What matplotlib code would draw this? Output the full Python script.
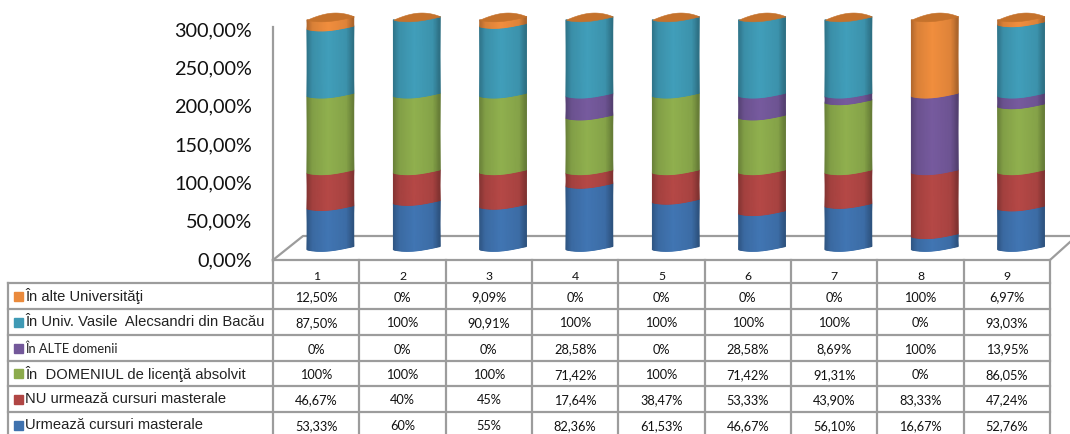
import numpy as np
import matplotlib
matplotlib.use("Agg")
import matplotlib.pyplot as plt
from matplotlib.lines import Line2D
from matplotlib.patches import Rectangle
from matplotlib.colors import LinearSegmentedColormap, to_rgb

categories = ["1", "2", "3", "4", "5", "6", "7", "8", "9"]
y_ticks = [0, 50, 100, 150, 200, 250, 300]
y_tick_labels = ["0,00%", "50,00%", "100,00%", "150,00%", "200,00%", "250,00%", "300,00%"]

# table rows, top to bottom
alte_univ = ["12,50%", "0%", "9,09%", "0%", "0%", "0%", "0%", "100%", "6,97%"]
univ_bacau = ["87,50%", "100%", "90,91%", "100%", "100%", "100%", "100%", "0%", "93,03%"]
alte_dom = ["0%", "0%", "0%", "28,58%", "0%", "28,58%", "8,69%", "100%", "13,95%"]
domeniu = ["100%", "100%", "100%", "71,42%", "100%", "71,42%", "91,31%", "0%", "86,05%"]
nu_urmeaza = ["46,67%", "40%", "45%", "17,64%", "38,47%", "53,33%", "43,90%", "83,33%", "47,24%"]
urmeaza = ["53,33%", "60%", "55%", "82,36%", "61,53%", "46,67%", "56,10%", "16,67%", "52,76%"]

row_labels = ["În alte Universităţi", "În Univ. Vasile  Alecsandri din Bacău", "În ALTE domenii",
              "În  DOMENIUL de licenţă absolvit", "NU urmează cursuri masterale", "Urmează cursuri masterale"]
row_values = [alte_univ, univ_bacau, alte_dom, domeniu, nu_urmeaza, urmeaza]
row_colors = ["#EA8A3C", "#3F9AB5", "#73589A", "#8CAB4C", "#B04644", "#3F72AE"]

W, H = 1070, 435
GRID = "#9C9C9C"
NUM_FONT = ["Lato", "DejaVu Sans"]
LABEL_FONT = ["Liberation Sans", "DejaVu Sans"]

fig = plt.figure(figsize=(W / 100, H / 100), dpi=100)


def fx(x):
    return x / W


def fy(y):
    return 1 - y / H


# chart area: one cell per category, 0-300 on 230 px
left, right, y0, y300 = 273, 1050, 259, 29
ax = fig.add_axes([fx(left), fy(y0), fx(right - left), fy(y300) - fy(y0)])
ax.set_xlim(0.5, 9.5)
ax.set_ylim(0, 300)
ax.axis("off")
ax.patch.set_alpha(0)


def to_num(s):
    return float(s.replace(",", ".").replace("%", ""))


def gline(xs, ys, lw=1.6):
    fig.add_artist(Line2D([fx(x) for x in xs], [fy(y) for y in ys], color=GRID, lw=lw, zorder=0))


# walls and floor
gline([273, 273], [28, 262])
gline([273, 303, 1070], [261, 237, 237])
gline([273, 1050, 1070], [261, 261, 243])

# y tick labels
for v, lab in zip(y_ticks, y_tick_labels):
    fig.text(fx(252), fy(y0 - v * (y0 - y300) / 300 + 1.5), lab, ha="right", va="center",
             fontsize=14.3, family=NUM_FONT, color="#111111")

# cylinders as gouraud meshes with a horizontal shade
SHIFT = 0.165   # 3D depth shift of the bars to the right
HALF = 0.27
BASE = 10.8     # height of the floor at the left edge of a bar
us = np.linspace(0, 1, 41)


def front(u):
    return 4.2 * u - 3.6 * np.sin(np.pi * u ** 0.8)


def back(u):
    return 4.2 * u + 7.0 * np.sin(np.pi * u ** 1.1) ** 0.8


def make_cmap(color):
    c = np.array(to_rgb(color))
    stops = [(0.0, c * 0.76), (0.12, c * 0.93), (0.45, c * 1.03), (0.85, c * 0.95), (1.0, c * 0.72)]
    return LinearSegmentedColormap.from_list("cyl", [(p, tuple(np.clip(k, 0, 1))) for p, k in stops])


cmaps = [make_cmap(c) for c in row_colors]
stack_order = list(range(len(row_values) - 1, -1, -1))
for i in range(len(categories)):
    cx = i + 1 + SHIFT
    xs = cx - HALF + 2 * HALF * us
    bottom = BASE
    for r in stack_order:
        v = to_num(row_values[r][i])
        if v == 0:
            continue
        X = np.vstack([xs, xs])
        Y = np.vstack([bottom + front(us), bottom + v + front(us)])
        C = np.vstack([us, us])
        ax.pcolormesh(X, Y, C, cmap=cmaps[r], vmin=0, vmax=1, shading="gouraud",
                      clip_on=False, zorder=3)
        bottom += v
    # top face of the cylinder
    ax.fill_between(xs, bottom + front(us), bottom + back(us), color="#C5722C",
                    lw=0.4, clip_on=False, zorder=4)

# table grid
col_x = [left + k * (right - left) / 9 for k in range(10)]
row_y = [284, 310, 336, 362, 387, 413, 439]
for y in row_y[:-1]:
    gline([8, 1050], [y, y])
gline([8, 8], [row_y[0], H])
for x in col_x:
    gline([x, x], [261, H])

# category row
for k, cat in enumerate(categories):
    fig.text(fx((col_x[k] + col_x[k + 1]) / 2), fy(276.5), cat, ha="center", va="center",
             fontsize=8.8, family=NUM_FONT, color="#111111")

# table body
for r, (lab, vals, col) in enumerate(zip(row_labels, row_values, row_colors)):
    yc = (row_y[r] + row_y[r + 1]) / 2
    fig.add_artist(Rectangle((fx(14), fy(yc + 4.5)), 9 / W, 9 / H, color=col,
                             transform=fig.transFigure))
    if lab == "În ALTE domenii":
        fig.text(fx(25), fy(yc), lab, ha="left", va="center", fontsize=9.3, family=NUM_FONT,
                 color="#222222")
    else:
        fig.text(fx(25), fy(yc - 0.5), lab, ha="left", va="center", fontsize=10.6,
                 family=LABEL_FONT, color="#222222")
    for k, s in enumerate(vals):
        fig.text(fx((col_x[k] + col_x[k + 1]) / 2), fy(yc + 0.5), s, ha="center", va="center",
                 fontsize=9.2, family=NUM_FONT, color="#111111")

fig.savefig("out.png", dpi=100)
